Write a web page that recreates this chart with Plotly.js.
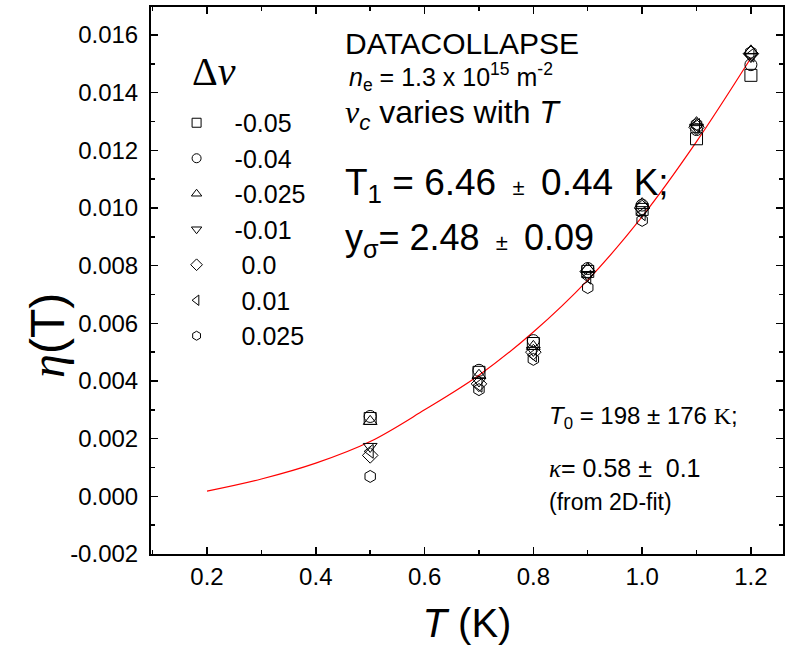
<!DOCTYPE html>
<html>
<head>
<meta charset="utf-8">
<script src="https://cdn.plot.ly/plotly-3.0.1.min.js"></script>
<style>html,body{margin:0;padding:0;background:#fff;}#chart{width:795px;height:657px;}</style>
</head>
<body>
<div id="chart"></div>
<script>
// ---- data ----
const temps = [0.5, 0.7, 0.8, 0.9, 1.0, 1.1, 1.2];
const seriesNames = ["-0.05", "-0.04", "-0.025", "-0.01", " 0.0", " 0.01", " 0.025"];
const seriesSymbols = ["square-open", "circle-open", "triangle-up-open", "triangle-down-open", "diamond-open", "triangle-left-open", "hexagon-open"];
const etaM005  = [0.00270, 0.00430, 0.00530, 0.00780, 0.00995, 0.01240, 0.01460];
const etaM004  = [0.00277, 0.00437, 0.00540, 0.00790, 0.01010, 0.01272, 0.01497];
const etaM0025 = [0.00260, 0.00420, 0.00520, 0.00790, 0.01015, 0.01296, 0.01545];
const etaM001  = [0.00173, 0.00400, 0.00506, 0.00766, 0.00988, 0.01280, 0.01525];
const eta000   = [0.00142, 0.00390, 0.00500, 0.00780, 0.01000, 0.01280, 0.01535];
const etaP001  = [0.00156, 0.00385, 0.00490, 0.00760, 0.00980, 0.01286, 0.01530];
const etaP0025 = [0.00069, 0.00370, 0.00475, 0.00724, 0.00957, 0.01290, 0.01540];
const seriesValues = [etaM005, etaM004, etaM0025, etaM001, eta000, etaP001, etaP0025];

const fitT   = [0.2, 0.3, 0.4, 0.5, 0.6, 0.7, 0.8, 0.9, 1.0, 1.1, 1.2];
const fitEta = [0.00018, 0.0006, 0.00115, 0.0019, 0.0030, 0.0042, 0.0057, 0.0075, 0.0097, 0.0123, 0.0152];

const yTickVals = [-0.002, 0.000, 0.002, 0.004, 0.006, 0.008, 0.010, 0.012, 0.014, 0.016];
const yTickText = ["-0.002", "0.000", "0.002", "0.004", "0.006", "0.008", "0.010", "0.012", "0.014", "0.016"];
const xTickVals = [0.2, 0.4, 0.6, 0.8, 1.0, 1.2];
const xTickText = ["0.2", "0.4", "0.6", "0.8", "1.0", "1.2"];

const FONT = "Liberation Sans, Arial, sans-serif";
const SERIF = "Liberation Serif, Times New Roman, serif";

const traces = [];
traces.push({
  x: fitT, y: fitEta, mode: "lines", type: "scatter",
  line: {color: "#ff0000", width: 1.2, shape: "spline"},
  showlegend: false, hoverinfo: "skip"
});
// plotted markers (drawn from last to first so squares/circles stay visible)
for (let i = seriesValues.length - 1; i >= 0; i--) {
  traces.push({
    x: temps, y: seriesValues[i], mode: "markers", type: "scatter",
    marker: {symbol: seriesSymbols[i], size: 12, color: "#000", line: {width: 1, color: "#000"}},
    showlegend: false, name: seriesNames[i]
  });
}
// legend entries (smaller symbols like the reference)
for (let i = 0; i < seriesValues.length; i++) {
  traces.push({
    x: [null], y: [null], mode: "markers", type: "scatter",
    marker: {symbol: seriesSymbols[i], size: 9, color: "#000", line: {width: 1, color: "#000"}},
    showlegend: true, name: seriesNames[i].replace(/^ /, "\u00a0")
  });
}

const layout = {
  width: 795, height: 657,
  margin: {l: 151, r: 12, t: 7, b: 103},
  paper_bgcolor: "#fff", plot_bgcolor: "#fff",
  font: {family: FONT, color: "#000", size: 24},
  showlegend: true,
  legend: {
    x: 0.012, y: 0.83, xanchor: "left", yanchor: "top",
    font: {family: FONT, size: 25, color: "#000"},
    bgcolor: "rgba(0,0,0,0)", borderwidth: 0,
    itemwidth: 66, tracegroupgap: 0
  },
  xaxis: {
    range: [0.097, 1.259],
    tickmode: "array", tickvals: xTickVals, ticktext: xTickText,
    ticks: "inside", ticklen: 7, tickwidth: 1.5, tickcolor: "#000",
    minor: {dtick: 0.1, tick0: 0.1, ticks: "inside", ticklen: 4, tickwidth: 1.5, tickcolor: "#000"},
    showline: true, linewidth: 2, linecolor: "#000", mirror: "allticks",
    showgrid: false, zeroline: false,
    tickfont: {family: FONT, size: 24, color: "#000"},
    title: {text: "<i>T</i> (K)", font: {family: FONT, size: 40, color: "#000"}, standoff: 20}
  },
  yaxis: {
    range: [-0.002, 0.01697],
    tickmode: "array", tickvals: yTickVals, ticktext: yTickText,
    ticks: "inside", ticklen: 7, tickwidth: 1.5, tickcolor: "#000",
    minor: {dtick: 0.001, tick0: 0.001, ticks: "inside", ticklen: 4, tickwidth: 1.5, tickcolor: "#000"},
    showline: true, linewidth: 2, linecolor: "#000", mirror: "allticks",
    showgrid: false, zeroline: false, ticklabelstandoff: 6,
    tickfont: {family: FONT, size: 24, color: "#000"},
    title: {text: ""}
  },
  annotations: [
    {xref: "paper", yref: "paper", x: -0.165, y: 0.40, xanchor: "center", yanchor: "middle", showarrow: false, textangle: -90,
     text: "<span style='font-family:" + SERIF + "'><i>η</i></span>(T)", font: {family: FONT, size: 48, color: "#000"}},
    {xref: "paper", yref: "paper", x: 0.062, y: 0.882, xanchor: "left", yanchor: "middle", showarrow: false,
     text: "Δ<i>ν</i>", font: {family: SERIF, size: 40, color: "#000"}},
    {xref: "paper", yref: "paper", x: 0.304, y: 0.933, xanchor: "left", yanchor: "middle", showarrow: false,
     text: "DATACOLLAPSE", font: {family: FONT, size: 30, color: "#000"}},
    {xref: "paper", yref: "paper", x: 0.31, y: 0.872, xanchor: "left", yanchor: "middle", showarrow: false,
     text: "<i>n</i><sub>e</sub> = 1.3 x 10<sup>15</sup> m<sup>-2</sup>", font: {family: FONT, size: 25, color: "#000"}},
    {xref: "paper", yref: "paper", x: 0.304, y: 0.803, xanchor: "left", yanchor: "middle", showarrow: false,
     text: "<span style='font-family:" + SERIF + "'><i>ν</i></span><sub><i>c</i></sub> varies with <i>T</i>", font: {family: FONT, size: 32, color: "#000"}},
    {xref: "paper", yref: "paper", x: 0.304, y: 0.675, xanchor: "left", yanchor: "middle", showarrow: false,
     text: "T<sub>1</sub> = 6.46 <span style='font-size:22px'> ± </span> 0.44  K;", font: {family: FONT, size: 37, color: "#000"}},
    {xref: "paper", yref: "paper", x: 0.304, y: 0.574, xanchor: "left", yanchor: "middle", showarrow: false,
     text: "y<sub>σ</sub>= 2.48 <span style='font-size:22px'> ± </span> 0.09", font: {family: FONT, size: 36, color: "#000"}},
    {xref: "paper", yref: "paper", x: 0.626, y: 0.25, xanchor: "left", yanchor: "middle", showarrow: false,
     text: "<i>T</i><sub>0</sub> = 198 ± 176 <span style='font-family:" + SERIF + "'>K</span>;", font: {family: FONT, size: 24, color: "#000"}},
    {xref: "paper", yref: "paper", x: 0.626, y: 0.157, xanchor: "left", yanchor: "middle", showarrow: false,
     text: "<span style='font-family:" + SERIF + "'><i>κ</i></span>= 0.58 ±  0.1", font: {family: FONT, size: 25, color: "#000"}},
    {xref: "paper", yref: "paper", x: 0.626, y: 0.095, xanchor: "left", yanchor: "middle", showarrow: false,
     text: "(from 2D-fit)", font: {family: FONT, size: 23, color: "#000"}}
  ]
};

Plotly.newPlot("chart", traces, layout, {staticPlot: true, displayModeBar: false});
</script>
</body>
</html>
